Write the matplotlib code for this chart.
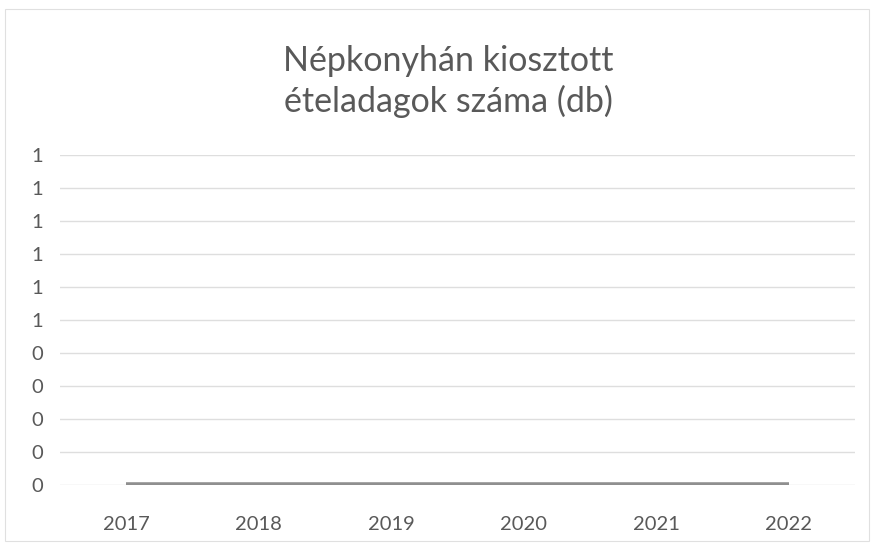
import matplotlib
matplotlib.use("Agg")
import matplotlib.pyplot as plt
from matplotlib.patches import Rectangle

years = ["2017", "2018", "2019", "2020", "2021", "2022"]
values = [0, 0, 0, 0, 0, 0]
y_ticks = [0.0, 0.1, 0.2, 0.3, 0.4, 0.5, 0.6, 0.7, 0.8, 0.9, 1.0]
y_tick_labels = ["0", "0", "0", "0", "0", "1", "1", "1", "1", "1", "1"]
title = "Népkonyhán kiosztott\nételadagok száma (db)"

plt.rcParams['font.family'] = ['Lato', 'DejaVu Sans']

fig = plt.figure(figsize=(8.74, 5.44), dpi=100)
fig.patch.set_facecolor("white")
ax = fig.add_axes([0.0686, 0.1085, 0.9094, 0.6065])

x = list(range(len(years)))
ax.plot(x, values, color="#8f8f8f", linewidth=4, solid_capstyle="butt", zorder=3)

ax.set_xlim(-0.5, len(years) - 0.5)
ax.set_ylim(0, 1.0)
ax.set_yticks(y_ticks)
ax.set_yticklabels(y_tick_labels)
ax.set_xticks(x)
ax.set_xticklabels(years)
ax.grid(axis="y", color="#dedede", linewidth=1)
ax.set_axisbelow(True)
for s in ax.spines.values():
    s.set_visible(False)
ax.tick_params(axis="both", length=0, labelsize=14.5, colors="#595959")
ax.tick_params(axis="y", pad=12)
ax.tick_params(axis="x", pad=22)

fig.text(0.513, 0.85, title, ha="center", va="center", fontsize=24.5,
         color="#595959", linespacing=1.3)

fig.patches.append(Rectangle((0.006, 0.006), 0.988, 0.978, transform=fig.transFigure,
                             fill=False, edgecolor="#e0e0e0", linewidth=0.8))

fig.savefig("out.png", dpi=100)
